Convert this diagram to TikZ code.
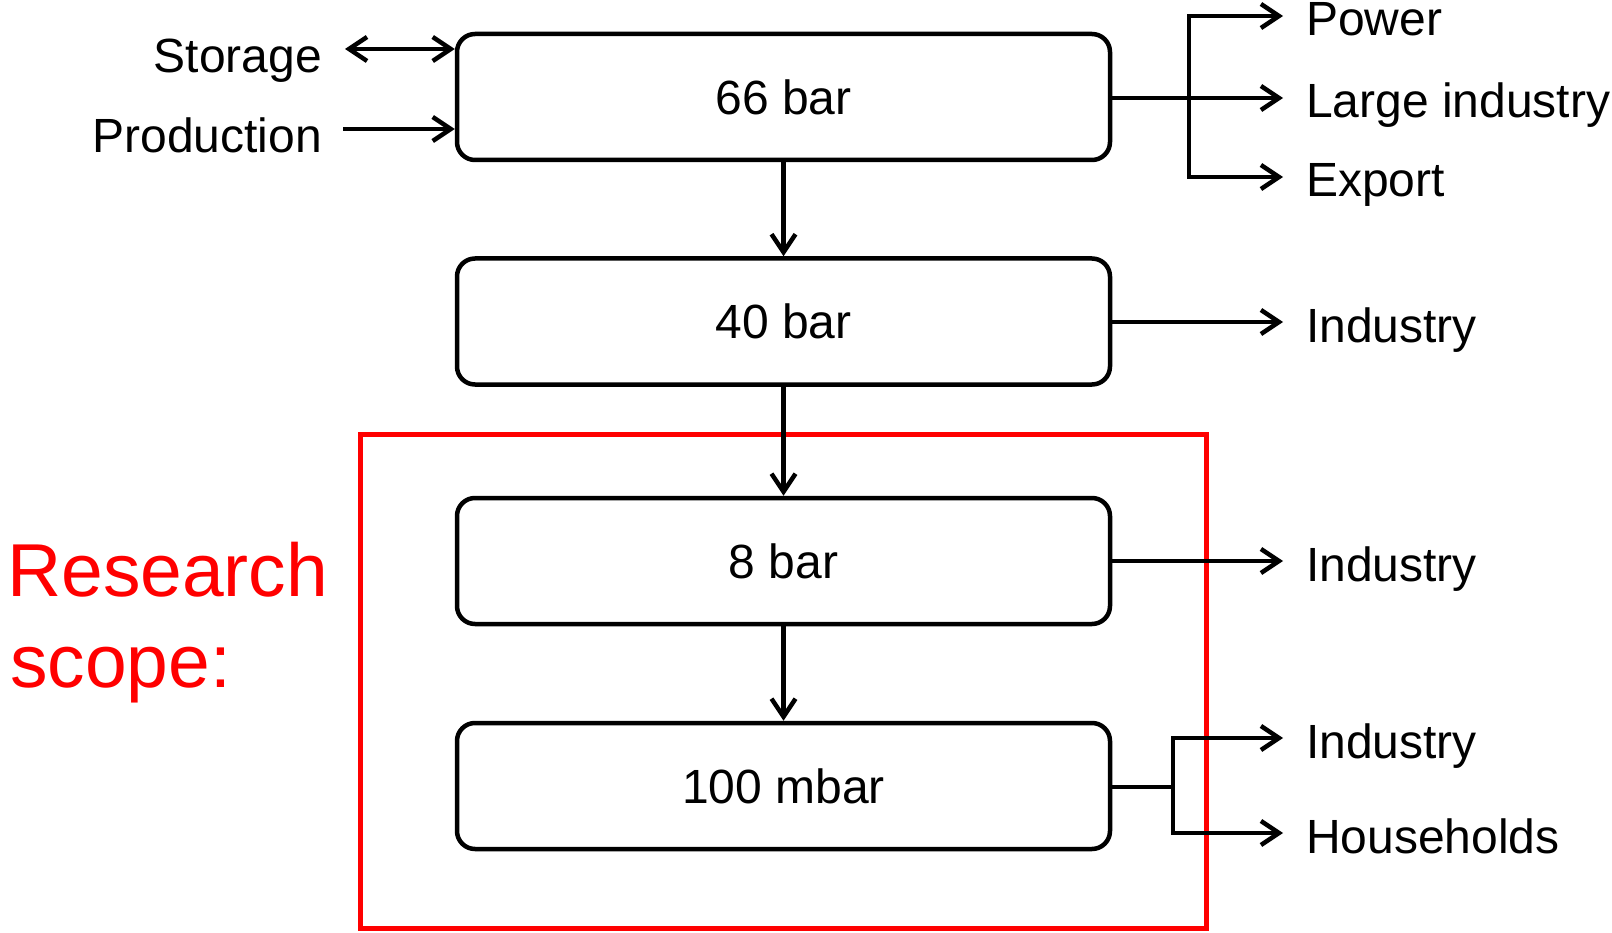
\documentclass[tikz,border=0pt]{standalone}
\usepackage{fontspec}
\setmainfont{Liberation Sans}
\usetikzlibrary{arrows.meta}
\begin{document}
\begin{tikzpicture}[x=1pt,y=-1pt,
  txt/.style={font=\fontsize{48}{57}\selectfont},
  box/.style={txt, draw, line width=4.5pt, rounded corners=18pt,
    minimum width=653pt, minimum height=126pt, inner sep=0pt},
  lbl/.style={txt, anchor=west, inner sep=0pt, text height=40pt, text depth=0pt},
  llbl/.style={txt, anchor=east, inner sep=0pt, text height=48pt, text depth=0pt},
  barb/.tip={Straight Barb[length=18pt,width=24pt]},
  line/.style={line width=4.5pt},
  conn/.style={line, -barb},
  redtxt/.style={anchor=base west, inner sep=0pt, text=red, font=\fontsize{75}{90}\selectfont}
]
\useasboundingbox (0,0) rectangle (1612,933);

% scope frame
\node[draw=red, line width=5pt, minimum width=846pt, minimum height=494pt, inner sep=0pt] (scope) at (783,681) {};

% pressure levels
\node[box] (b66) at (783.5,97) {66 bar};
\node[box] (b40) at (783.5,321.5) {40 bar};
\node[box] (b8) at (783.5,561) {8 bar};
\node[box] (b100) at (783.5,786) {100 mbar};

% labels right
\node[lbl] (power) at (1306,16) {Power};
\node[lbl] (large) at (1306,98) {Large industry};
\node[lbl] (export) at (1306,177) {Export};
\node[lbl] (ind40) at (1306,322) {Industry};
\node[lbl] (ind8) at (1306,561) {Industry};
\node[lbl] (ind100) at (1306,738) {Industry};
\node[lbl] (house) at (1306,833) {Households};

% labels left
\node[llbl] (storage) at (322,49) {Storage};
\node[llbl] (prod) at (322,129) {Production};

% research scope text
\node[redtxt] (rs1) at (7,596) {Research};
\node[redtxt] (rs2) at (10,687) {scope:};

% vertical flow
\draw[conn] (b66) -- (b40);
\draw[conn] (b40) -- (b8);
\draw[conn] (b8) -- (b100);

% inputs
\draw[line, barb-barb, shorten <=23pt] (storage.east) -- (storage.east -| b66.west);
\draw[conn, shorten <=21pt] (prod.east) -- (prod.east -| b66.west);

% 66 bar outputs
\coordinate (j1) at (1189,98);
\draw[conn, shorten >=23pt] (b66.east |- large.west) -- (large.west);
\draw[conn, shorten >=23pt] (j1) |- (power.west);
\draw[conn, shorten >=23pt] (j1) |- (export.west);

% 40 / 8 bar outputs
\draw[conn, shorten >=23pt] (b40.east |- ind40.west) -- (ind40.west);
\draw[conn, shorten >=23pt] (b8.east |- ind8.west) -- (ind8.west);

% 100 mbar outputs
\coordinate (j2) at (1173,787);
\draw[line] (b100.east |- j2) -- (j2);
\draw[conn, shorten >=23pt] (j2) |- (ind100.west);
\draw[conn, shorten >=23pt] (j2) |- (house.west);
\end{tikzpicture}
\end{document}
